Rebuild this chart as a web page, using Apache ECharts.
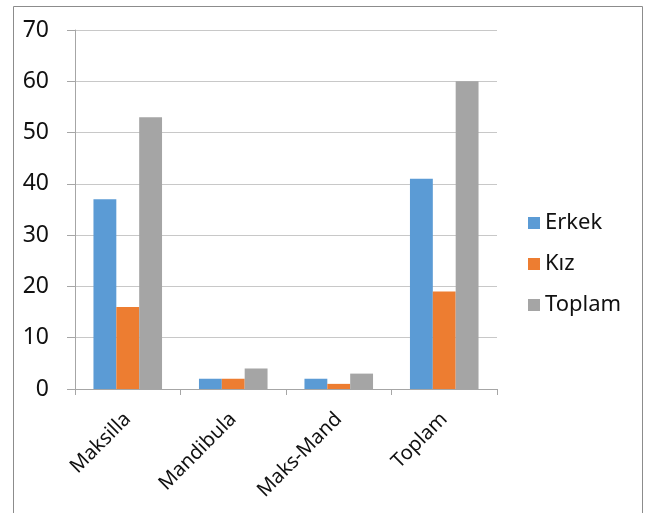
<!DOCTYPE html>
<html>
<head>
<meta charset="utf-8">
<script src="https://cdn.jsdelivr.net/npm/echarts@6/dist/echarts.min.js"></script>
<style>
  html, body { margin: 0; padding: 0; background: #fff; }
  #chart { width: 646px; height: 513px; }
</style>
</head>
<body>
<div id="chart"></div>
<script>
// Categories and series values
const categories = ['Maksilla', 'Mandibula', 'Maks-Mand', 'Toplam'];
const erkek = [37, 2, 2, 41];
const kiz = [16, 2, 1, 19];
const toplam = [53, 4, 3, 60];
const seriesNames = ['Erkek', 'Kız', 'Toplam'];
const colors = ['#5B9BD5', '#ED7D31', '#A5A5A5'];

const font = '"Noto Sans", "Open Sans", sans-serif';
const chart = echarts.init(document.getElementById('chart'));

const mkBar = (name, data, color) => ({
  name, type: 'bar', data,
  itemStyle: { color },
  barGap: '0%',
  barCategoryGap: '35%'
});

chart.setOption({
  animation: false,
  color: colors,
  textStyle: { fontFamily: font },
  graphic: [{
    type: 'rect',
    shape: { x: 13.5, y: 6.5, width: 629, height: 530 },
    style: { fill: 'none', stroke: '#8c8c8c', lineWidth: 1 },
    silent: true
  }],
  grid: { left: 75, right: 149, top: 30, bottom: 124 },
  legend: {
    orient: 'vertical',
    left: 523,
    top: 207,
    itemWidth: 12,
    itemHeight: 12,
    itemGap: 19,
    icon: 'rect',
    textStyle: { fontSize: 22, color: '#111', fontFamily: font },
    data: seriesNames
  },
  xAxis: {
    type: 'category',
    data: categories,
    axisLine: { lineStyle: { color: '#a6a6a6' } },
    axisTick: { show: true, length: 6, lineStyle: { color: '#a6a6a6' } },
    axisLabel: { rotate: 45, fontSize: 20, color: '#111', margin: 27, fontFamily: font }
  },
  yAxis: {
    type: 'value',
    min: 0, max: 70, interval: 10,
    axisLine: { show: true, lineStyle: { color: '#a6a6a6' } },
    axisTick: { show: true, length: 8, lineStyle: { color: '#a6a6a6' } },
    axisLabel: { fontSize: 23, color: '#111', margin: 26, fontFamily: font },
    splitLine: { lineStyle: { color: '#c8c8c8' } }
  },
  series: [
    mkBar(seriesNames[0], erkek, colors[0]),
    mkBar(seriesNames[1], kiz, colors[1]),
    mkBar(seriesNames[2], toplam, colors[2])
  ]
});
</script>
</body>
</html>
